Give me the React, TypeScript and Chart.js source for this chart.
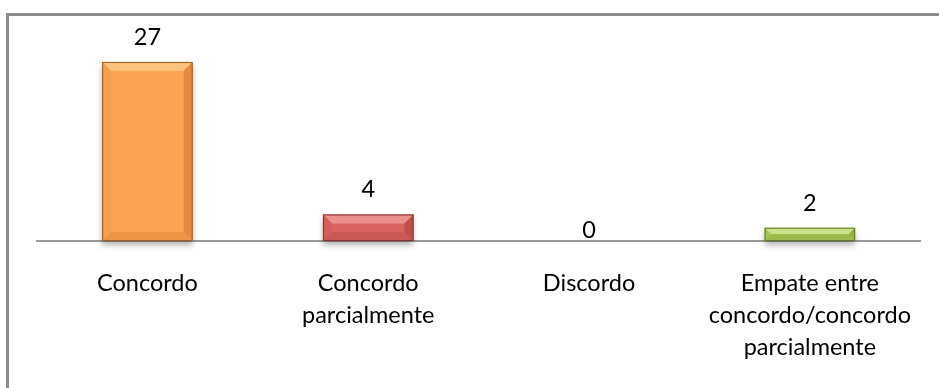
import React, { useEffect, useRef } from "react";
import { Chart, registerables } from "chart.js";

Chart.register(...registerables);

const categories: string[][] = [
  ["Concordo"],
  ["Concordo", "parcialmente"],
  ["Discordo"],
  ["Empate entre", "concordo/concordo", "parcialmente"],
];
const values: number[] = [27, 4, 0, 2];

const fillColors = ["#FBA352", "#DA6360", "#AACB59", "#AACB59"];
const lightColors = ["#FDC27C", "#EB918D", "#CBE28B", "#CBE28B"];
const leftShade = ["#F79D4C", "#D65D5A", "#A5C653", "#A5C653"];
const rightShade = ["#E48A3C", "#C04E4B", "#92B044", "#92B044"];
const bottomShade = ["#EE9445", "#CB5855", "#9CBB4C", "#9CBB4C"];
const edgeColors = ["#A65A1C", "#8A2F2D", "#5E7A22", "#5E7A22"];

const FONT = "Lato, 'Open Sans', sans-serif";
const FONT_SIZE = 23.5;

const bevelPlugin = {
  id: "bevelBars",
  beforeDatasetsDraw(chart: any) {
    const ctx = chart.ctx;
    ctx.save();
    ctx.shadowColor = "rgba(0,0,0,0.3)";
    ctx.shadowBlur = 6;
    ctx.shadowOffsetY = 4;
  },
  afterDatasetsDraw(chart: any) {
    const ctx = chart.ctx;
    ctx.restore();
    const meta = chart.getDatasetMeta(0);
    const data = chart.data.datasets[0].data as number[];
    meta.data.forEach((bar: any, i: number) => {
      const { x, y, base, width } = bar.getProps(["x", "y", "base", "width"], true);
      const left = x - width / 2;
      const right = x + width / 2;
      const top = y;
      const bottom = base;
      const h = bottom - top;
      if (h > 0.5) {
        const b = Math.min(9, h / 2);
        const poly = (pts: number[][], color: string) => {
          ctx.beginPath();
          ctx.moveTo(pts[0][0], pts[0][1]);
          for (let k = 1; k < pts.length; k++) ctx.lineTo(pts[k][0], pts[k][1]);
          ctx.closePath();
          ctx.fillStyle = color;
          ctx.fill();
        };
        ctx.save();
        poly([[left, top], [right, top], [right - b, top + b], [left + b, top + b]], lightColors[i]);
        poly([[left, top], [left + b, top + b], [left + b, bottom - b], [left, bottom]], leftShade[i]);
        poly([[right, top], [right - b, top + b], [right - b, bottom - b], [right, bottom]], rightShade[i]);
        poly([[left, bottom], [left + b, bottom - b], [right - b, bottom - b], [right, bottom]], bottomShade[i]);
        ctx.strokeStyle = edgeColors[i];
        ctx.lineWidth = 1;
        ctx.strokeRect(left + 0.5, top + 0.5, width - 1, h - 1);
        ctx.restore();
      }
      ctx.save();
      ctx.font = `${FONT_SIZE}px ${FONT}`;
      ctx.fillStyle = "#000";
      ctx.textAlign = "center";
      ctx.textBaseline = "alphabetic";
      const v = data[i];
      const baseline = v === 0 ? base - 3 : top - 17;
      ctx.fillText(String(v), x, baseline);
      ctx.restore();
    });
  },
};

export default function App() {
  const canvasRef = useRef<HTMLCanvasElement>(null);

  useEffect(() => {
    if (!canvasRef.current) return;
    const chart = new Chart(canvasRef.current, {
      type: "bar",
      data: {
        labels: categories,
        datasets: [
          {
            data: values,
            backgroundColor: fillColors,
            borderWidth: 0,
            barPercentage: 0.41,
            categoryPercentage: 1,
            clip: false as any,
          },
        ],
      },
      options: {
        responsive: false,
        animation: false,
        events: [],
        layout: { padding: { top: 42, left: 37, right: 16, bottom: 0 } },
        plugins: {
          legend: { display: false },
          tooltip: { enabled: false },
          title: { display: false },
        },
        scales: {
          x: {
            grid: { display: false, drawTicks: false },
            border: { display: true, color: "#9A9A9A", width: 2 },
            ticks: {
              color: "#000",
              padding: 26,
              maxRotation: 0,
              autoSkip: false,
              font: { family: FONT, size: FONT_SIZE, lineHeight: 32 / FONT_SIZE },
            },
            afterFit: (scale: any) => {
              scale.height = 147;
            },
          },
          y: {
            display: false,
            min: 0,
            max: 30,
          },
        },
      },
      plugins: [bevelPlugin],
    });
    return () => chart.destroy();
  }, []);

  return (
    <div
      style={{
        position: "absolute",
        left: 0,
        top: 0,
        width: 939,
        height: 388,
        overflow: "hidden",
        background: "#fff",
      }}
    >
      <div
        style={{
          position: "absolute",
          left: 6,
          top: 13,
          width: 1000,
          height: 500,
          borderTop: "3px solid #8C8C8C",
          borderLeft: "3px solid #8C8C8C",
          boxSizing: "border-box",
        }}
      />
      <canvas
        ref={canvasRef}
        width={939}
        height={388}
        style={{ position: "absolute", left: 0, top: 0, width: 939, height: 388 }}
      />
    </div>
  );
}
